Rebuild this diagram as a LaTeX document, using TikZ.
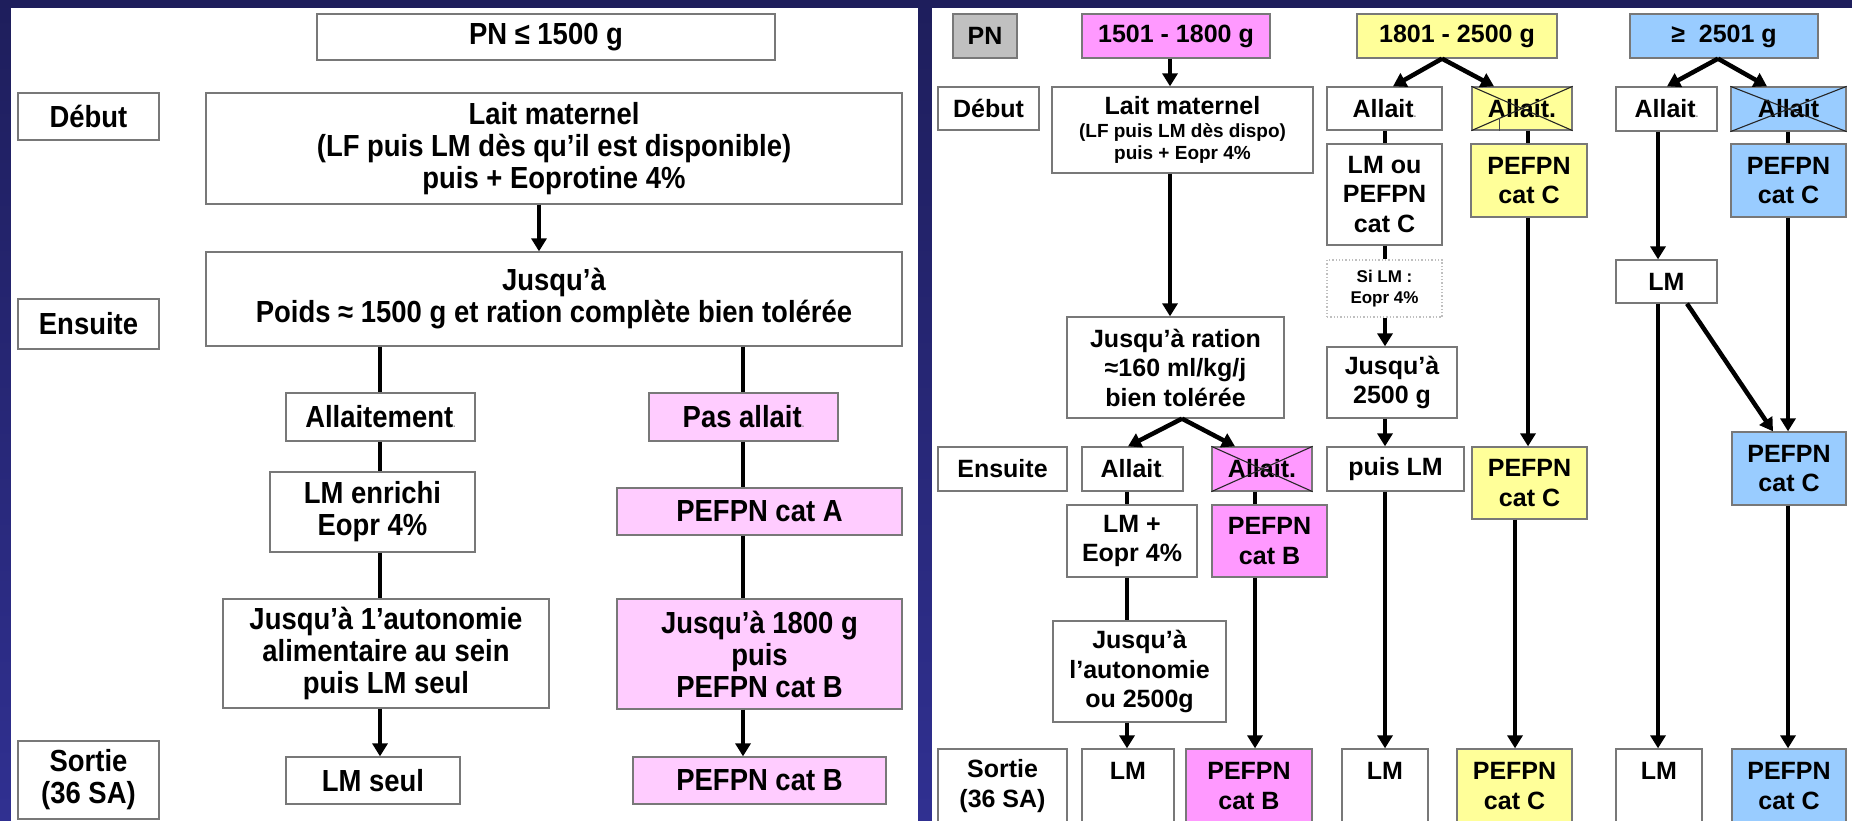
\documentclass[tikz,border=0pt]{standalone}
\usepackage{fontspec}
\setmainfont{Liberation Sans}
\newfontfamily\condfont{Liberation Sans}[FakeStretch=0.9]
\usetikzlibrary{arrows.meta}
\definecolor{bord}{RGB}{120,120,120}
\definecolor{mag}{RGB}{255,153,255}
\definecolor{pinkl}{RGB}{255,204,255}
\definecolor{yel}{RGB}{255,255,153}
\definecolor{blu}{RGB}{153,204,255}
\definecolor{gry}{RGB}{192,192,192}
\definecolor{bgtop}{RGB}{30,30,92}
\definecolor{bgbot}{RGB}{48,48,145}
\newcommand\LF{\condfont\fontsize{30.5}{32}\selectfont\bfseries}
\newcommand\RF{\fontsize{25}{29.5}\selectfont\bfseries}
\newcommand\SF{\fontsize{19}{22.5}\selectfont\bfseries}
\newcommand\TF{\fontsize{17}{21}\selectfont\bfseries}
\newcommand\smdot{{\fontsize{10}{10}\selectfont\color{gray}.}}
\newcommand\bx[7]{\node[#6,minimum width={#4pt-#2pt},minimum height={#5pt-#3pt}] (#1) at ({(#2+#4)/2},{(#3+#5)/2}) {#7};}
\tikzset{
 box/.style={draw=bord, line width=1.3pt, fill=white, inner sep=0pt, align=center},
 lb/.style={box, font=\LF},
 rb/.style={box, font=\RF},
 con/.style={line width=4.5pt},
 arr/.style={line width=4.5pt, -{Triangle[length=13pt,width=15pt]}},
 cross/.style={line width=1.1pt, black!85},
}
\begin{document}
\begin{tikzpicture}[x=1pt,y=-1pt]
\useasboundingbox (0,0) rectangle (1852,821);
\shade[top color=bgtop, bottom color=bgbot] (0,0) rectangle (1852,821);
\fill[white] (11,8) rectangle (918,821);
\fill[white] (932,8) rectangle (1852,821);
% ---------- left panel ----------
\bx{pnL}{317}{14}{775}{60}{lb}{PN ≤ 1500 g}
\bx{debL}{18}{93}{159}{140}{lb}{Début}
\bx{laitL}{206}{93}{902}{204}{lb}{Lait maternel\\(LF puis LM dès qu’il est disponible)\\puis + Eoprotine 4\%}
\bx{jusL}{206}{252}{902}{346}{lb}{Jusqu’à\\Poids ≈ 1500 g et ration complète bien tolérée}
\bx{ensL}{18}{299}{159}{349}{lb}{Ensuite}
\bx{allL}{286}{393}{475}{441}{lb}{Allaitement\smdot}
\bx{pasL}{649}{393}{838}{441}{lb,fill=pinkl}{Pas allait\smdot}
\bx{lmeL}{270}{472}{475}{552}{lb}{LM enrichi\\Eopr 4\%}
\bx{pefaL}{617}{488}{902}{535}{lb,fill=pinkl}{PEFPN cat A}
\bx{autL}{223}{599}{549}{708}{lb}{Jusqu’à 1’autonomie\\alimentaire au sein\\puis LM seul}
\bx{j18L}{617}{599}{902}{709}{lb,fill=pinkl}{Jusqu’à 1800 g\\puis\\PEFPN cat B}
\bx{lmsL}{286}{757}{460}{804}{lb}{LM seul}
\bx{pefbL}{633}{757}{886}{804}{lb,fill=pinkl}{PEFPN cat B}
\bx{sortL}{18}{741}{159}{819}{lb}{Sortie\\(36 SA)}
\coordinate (xL1) at (539,0);
\coordinate (xL2) at (380,0);
\coordinate (xL3) at (743,0);
\draw[arr] (laitL.south -| xL1) -- (jusL.north -| xL1);
\draw[con] (jusL.south -| xL2) -- (allL.north -| xL2);
\draw[con] (allL.south -| xL2) -- (lmeL.north -| xL2);
\draw[con] (lmeL.south -| xL2) -- (autL.north -| xL2);
\draw[arr] (autL.south -| xL2) -- (lmsL.north -| xL2);
\draw[con] (jusL.south -| xL3) -- (pasL.north -| xL3);
\draw[con] (pasL.south -| xL3) -- (pefaL.north -| xL3);
\draw[con] (pefaL.south -| xL3) -- (j18L.north -| xL3);
\draw[arr] (j18L.south -| xL3) -- (pefbL.north -| xL3);
% ---------- right panel ----------
\bx{pnR}{953}{14}{1017}{58}{rb,fill=gry}{PN}
\bx{c15}{1082}{14}{1270}{58}{rb,fill=mag}{1501 - 1800 g}
\bx{c18}{1357}{14}{1557}{58}{rb,fill=yel}{1801 - 2500 g}
\bx{c25}{1630}{14}{1818}{58}{rb,fill=blu}{≥~ 2501 g}
\bx{debR}{938}{87}{1039}{130}{rb}{Début}
\bx{laitR}{1052}{87}{1313}{173}{box,font=\SF}{{\RF Lait maternel}\\(LF puis LM dès dispo)\\puis + Eopr 4\%}
\bx{allY}{1327}{87}{1442}{130}{rb}{Allait\smdot}
\bx{xY}{1472}{87}{1572}{130}{rb,fill=yel}{Allait.}
\bx{allB}{1616}{87}{1717}{131}{rb}{Allait\smdot}
\bx{xB}{1731}{87}{1846}{131}{rb,fill=blu}{Allait}
\bx{lmou}{1327}{144}{1442}{245}{rb}{LM ou\\PEFPN\\cat C}
\bx{pcY1}{1471}{144}{1587}{217}{rb,fill=yel}{PEFPN\\cat C}
\bx{pcB1}{1731}{144}{1846}{217}{rb,fill=blu}{PEFPN\\cat C}
\bx{sili}{1327}{260}{1442}{317}{box,draw=gray!50,dotted,font=\TF}{Si LM :\\Eopr 4\%}
\bx{lmB}{1616}{260}{1717}{303}{rb}{LM}
\bx{j25}{1327}{347}{1457}{418}{rb}{Jusqu’à\\2500 g}
\bx{ration}{1067}{317}{1284}{418}{rb}{Jusqu’à ration\\≈160 ml/kg/j\\bien tolérée}
\bx{pcB2}{1732}{432}{1846}{505}{rb,fill=blu}{PEFPN\\cat C}
\bx{ensR}{938}{447}{1067}{491}{rb}{Ensuite}
\bx{allM}{1082}{447}{1183}{491}{rb}{Allait\smdot}
\bx{xM}{1212}{447}{1312}{491}{rb,fill=mag}{Allait.}
\bx{puisLM}{1327}{447}{1464}{491}{rb}{puis LM}
\bx{pcY2}{1472}{447}{1587}{519}{rb,fill=yel}{PEFPN\\cat C}
\bx{lmeR}{1067}{505}{1197}{577}{rb}{LM +\\Eopr 4\%}
\bx{pcbM}{1212}{505}{1327}{577}{rb,fill=mag}{PEFPN\\cat B}
\bx{autR}{1053}{621}{1226}{722}{rb}{Jusqu’à\\l’autonomie\\ou 2500g}
\bx{sortR}{938}{749}{1067}{823}{rb}{Sortie\\(36 SA)}
\bx{lmM}{1082}{749}{1174}{823}{rb}{LM\\~}
\bx{pcbM2}{1186}{749}{1312}{823}{rb,fill=mag}{PEFPN\\cat B}
\bx{lmY}{1342}{749}{1428}{823}{rb}{LM\\~}
\bx{pcY3}{1457}{749}{1572}{823}{rb,fill=yel}{PEFPN\\cat C}
\bx{lmB2}{1616}{749}{1702}{823}{rb}{LM\\~}
\bx{pcB3}{1732}{749}{1846}{823}{rb,fill=blu}{PEFPN\\cat C}
% crosses
\draw[cross] (xY.north west) -- (xY.south east) (xY.north east) -- (xY.south west);
\draw[line width=0.8pt, black!70] (1499,118) -- (xY.south -| 1499,0);
\draw[cross] (xB.north west) -- (xB.south east) (xB.north east) -- (xB.south west);
\draw[cross] (xM.north west) -- (xM.south east) (xM.north east) -- (xM.south west);
% column x positions
\coordinate (xR1) at (1170,0);
\coordinate (xR2) at (1127,0);
\coordinate (xR3) at (1255,0);
\coordinate (xR4) at (1385,0);
\coordinate (xR5) at (1528,0);
\coordinate (xR6) at (1515,0);
\coordinate (xR7) at (1658,0);
\coordinate (xR8) at (1788,0);
\coordinate (a18) at (1442,0);
\coordinate (t18a) at (1393,0);
\coordinate (t18b) at (1494,0);
\coordinate (a25) at (1718,0);
\coordinate (t25a) at (1667,0);
\coordinate (t25b) at (1767,0);
\coordinate (aR) at (1182,0);
\coordinate (tRa) at (1128,0);
\coordinate (tRb) at (1235,0);
\coordinate (dA) at (1687,0);
\coordinate (dB) at (1773,0);
% magenta column
\draw[arr] (c15.south -| xR1) -- (laitR.north -| xR1);
\draw[arr] (laitR.south -| xR1) -- (ration.north -| xR1);
\draw[arr] (ration.south -| aR) -- (allM.north -| tRa);
\draw[arr] (ration.south -| aR) -- (xM.north -| tRb);
\draw[con] (allM.south -| xR2) -- (lmeR.north -| xR2);
\draw[con] (lmeR.south -| xR2) -- (autR.north -| xR2);
\draw[arr] (autR.south -| xR2) -- (lmM.north -| xR2);
\draw[con] (xM.south -| xR3) -- (pcbM.north -| xR3);
\draw[arr] (pcbM.south -| xR3) -- (pcbM2.north -| xR3);
% yellow column
\draw[arr] (c18.south -| a18) -- (allY.north -| t18a);
\draw[arr] (c18.south -| a18) -- (xY.north -| t18b);
\draw[con] (allY.south -| xR4) -- (lmou.north -| xR4);
\draw[con] (lmou.south -| xR4) -- (sili.north -| xR4);
\draw[arr] (sili.south -| xR4) -- (j25.north -| xR4);
\draw[arr] (j25.south -| xR4) -- (puisLM.north -| xR4);
\draw[arr] (puisLM.south -| xR4) -- (lmY.north -| xR4);
\draw[con] (xY.south -| xR5) -- (pcY1.north -| xR5);
\draw[arr] (pcY1.south -| xR5) -- (pcY2.north -| xR5);
\draw[arr] (pcY2.south -| xR6) -- (pcY3.north -| xR6);
% blue column
\draw[arr] (c25.south -| a25) -- (allB.north -| t25a);
\draw[arr] (c25.south -| a25) -- (xB.north -| t25b);
\draw[arr] (allB.south -| xR7) -- (lmB.north -| xR7);
\draw[arr] (lmB.south -| xR7) -- (lmB2.north -| xR7);
\draw[arr] (lmB.south -| dA) -- (pcB2.north -| dB);
\draw[con] (xB.south -| xR8) -- (pcB1.north -| xR8);
\draw[arr] (pcB1.south -| xR8) -- (pcB2.north -| xR8);
\draw[arr] (pcB2.south -| xR8) -- (pcB3.north -| xR8);
\end{tikzpicture}
\end{document}
